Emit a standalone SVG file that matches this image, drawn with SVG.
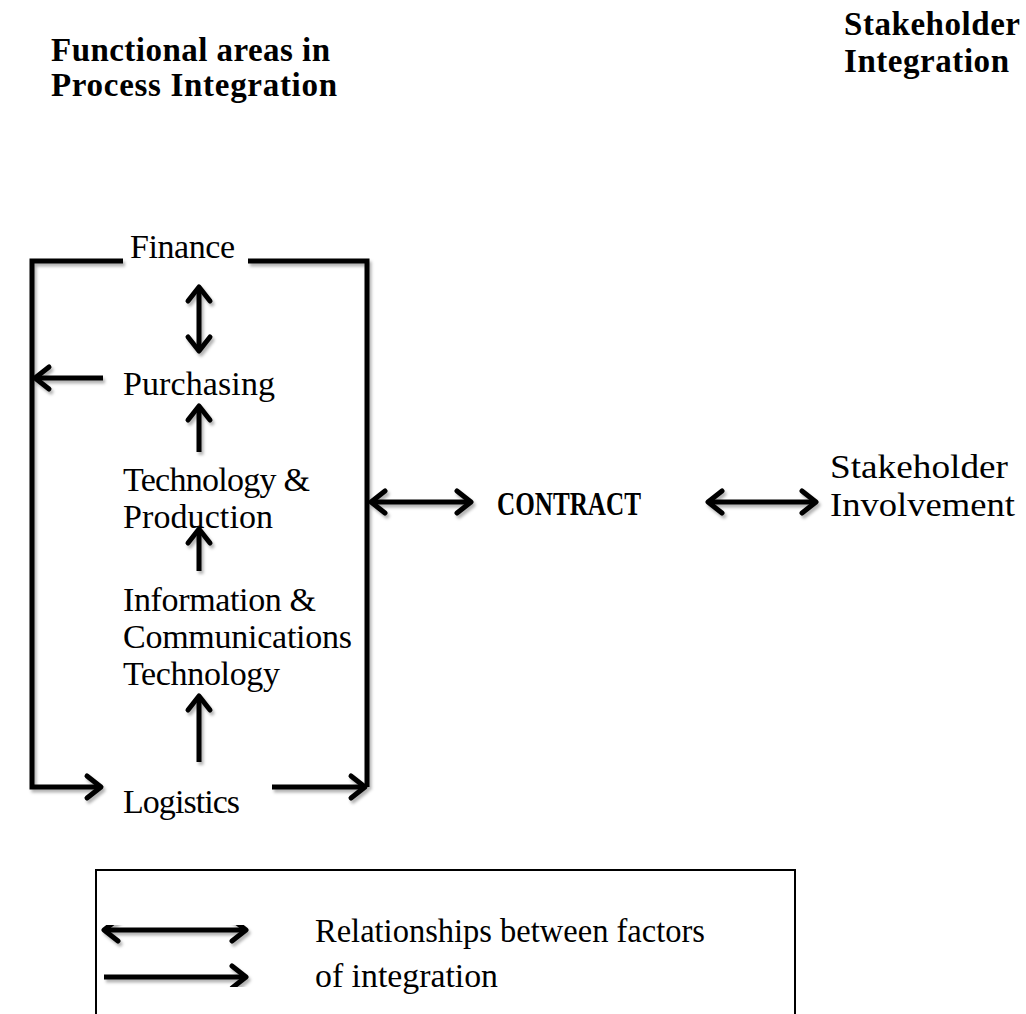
<svg xmlns="http://www.w3.org/2000/svg" width="1026" height="1014" viewBox="0 0 1026 1014">
  <style>
    text { font-family: "Liberation Serif", "Times New Roman", serif; fill: #000; }
    .body { font-size: 34px; }
    .title { font-size: 33px; font-weight: bold; }
    .line { fill: none; stroke: #000; stroke-width: 5; stroke-linejoin: miter; }
    .legend-box { fill: none; stroke: #000; stroke-width: 2; }
  </style>
  <defs>
    <filter id="soft-shadow" x="-10%" y="-10%" width="130%" height="130%">
      <feDropShadow dx="2" dy="3" stdDeviation="1.6" flood-color="#000" flood-opacity="0.3"/>
    </filter>
    <marker id="chevron" viewBox="-20 -15 26 30" refX="0" refY="0" markerWidth="26" markerHeight="30"
            markerUnits="userSpaceOnUse" orient="auto-start-reverse">
      <path d="M-14,-11 L0,0 L-14,11" fill="none" stroke="#000" stroke-width="5"
            stroke-linecap="round" stroke-linejoin="round"/>
    </marker>
  </defs>

  <rect width="1026" height="1014" fill="#fff"/>

  <!-- headings -->
  <g id="heading-process">
    <text class="title" x="51" y="61" textLength="279">Functional areas in</text>
    <text class="title" x="51" y="96" textLength="286">Process Integration</text>
  </g>
  <g id="heading-stakeholder">
    <text class="title" x="844" y="35" textLength="176">Stakeholder</text>
    <text class="title" x="844" y="72" textLength="165">Integration</text>
  </g>

  <!-- functional areas -->
  <g id="finance"><text class="body" x="130" y="258" textLength="105">Finance</text></g>
  <g id="purchasing"><text class="body" x="123" y="395" textLength="152">Purchasing</text></g>
  <g id="technology-production">
    <text class="body" x="123" y="491" textLength="187">Technology &amp;</text>
    <text class="body" x="123" y="528" textLength="150">Production</text>
  </g>
  <g id="ict">
    <text class="body" x="123" y="611" textLength="193">Information &amp;</text>
    <text class="body" x="123" y="648" textLength="229">Communications</text>
    <text class="body" x="123" y="685" textLength="157">Technology</text>
  </g>
  <g id="logistics"><text class="body" x="123" y="813" textLength="117">Logistics</text></g>

  <g id="contract">
    <text class="title" x="497" y="515" font-size="34" textLength="144" lengthAdjust="spacingAndGlyphs">CONTRACT</text>
  </g>
  <g id="stakeholder-involvement">
    <text class="body" x="830" y="478" textLength="178" lengthAdjust="spacingAndGlyphs">Stakeholder</text>
    <text class="body" x="830" y="516" textLength="185" lengthAdjust="spacingAndGlyphs">Involvement</text>
  </g>

  <!-- connectors -->
  <g id="connectors" filter="url(#soft-shadow)">
    <!-- bracket around the functional areas -->
    <path class="line" d="M123,261 H32 V787 H101" marker-end="url(#chevron)"/>
    <path class="line" d="M248,261 H367 V787"/>
    <path class="line" d="M272,787 H365" marker-end="url(#chevron)"/>
    <!-- flows between areas -->
    <path class="line" d="M199,287 V351" marker-start="url(#chevron)" marker-end="url(#chevron)"/>
    <path class="line" d="M103,378 H35" marker-end="url(#chevron)"/>
    <path class="line" d="M199,452 V406" marker-end="url(#chevron)"/>
    <path class="line" d="M199,571 V529" marker-end="url(#chevron)"/>
    <path class="line" d="M199,762 V696" marker-end="url(#chevron)"/>
    <!-- links to the contract -->
    <path class="line" d="M371,502 H471" marker-start="url(#chevron)" marker-end="url(#chevron)"/>
    <path class="line" d="M708,502 H816" marker-start="url(#chevron)" marker-end="url(#chevron)"/>
  </g>

  <!-- legend -->
  <g id="legend">
    <rect class="legend-box" x="96" y="870" width="699" height="170"/>
    <g filter="url(#soft-shadow)">
      <path class="line" d="M104,930 H246" marker-start="url(#chevron)" marker-end="url(#chevron)"/>
      <path class="line" d="M104,977 H246" marker-end="url(#chevron)"/>
    </g>
    <text class="body" x="315" y="942" textLength="390" lengthAdjust="spacingAndGlyphs">Relationships between factors</text>
    <text class="body" x="315" y="987" textLength="183" lengthAdjust="spacingAndGlyphs">of integration</text>
  </g>
</svg>
